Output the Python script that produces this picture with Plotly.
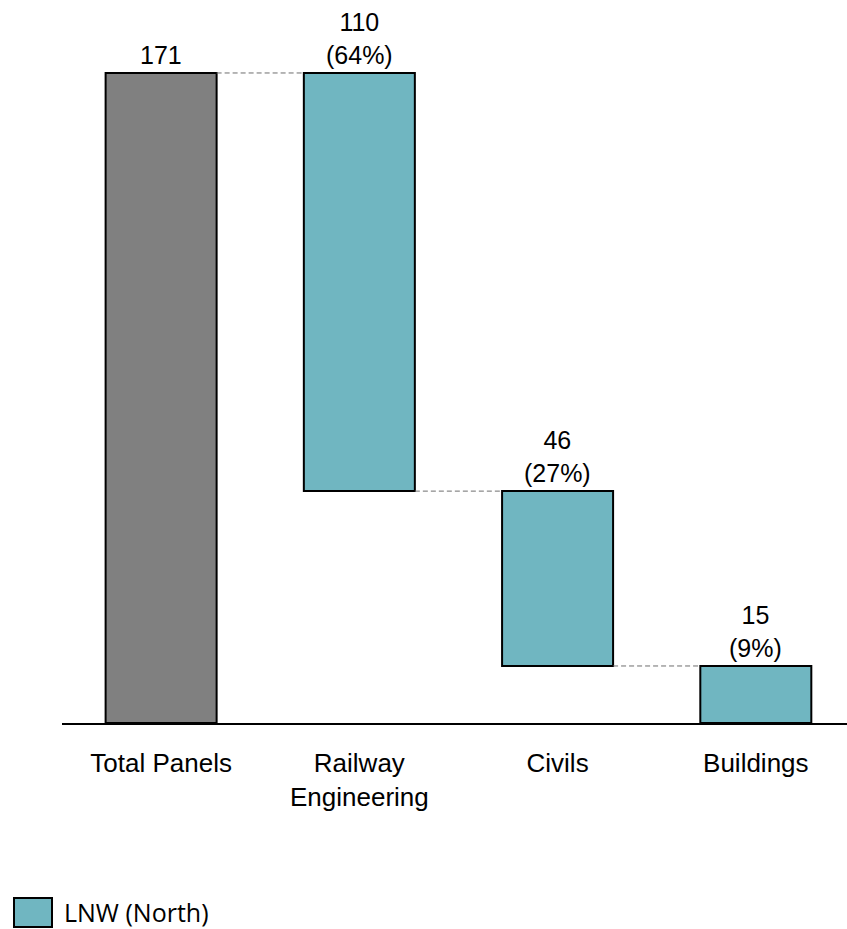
import plotly.graph_objects as go

# Panel counts: overall total, then breakdown by discipline
total_label = "Total Panels"
total_value = 171
categories = ["Railway<br>Engineering", "Civils", "Buildings"]
values = [110, 46, 15]
series_name = "LNW (North)"

TEAL = "#70B6C1"
GREY = "#808080"
FONT = "Liberation Sans, Arial, sans-serif"
BAR_W = 0.56

# Waterfall bases: each discipline bar hangs from the running remainder
bases = []
running = total_value
for v in values:
    running -= v
    bases.append(running)

x_cat = list(range(len(categories) + 1))
x_teal = x_cat[1:]

fig = go.Figure()

fig.add_trace(go.Bar(
    x=[x_cat[0]], y=[total_value], base=[0], width=BAR_W,
    marker=dict(color=GREY, line=dict(color="#000000", width=2)),
    showlegend=False, hoverinfo="skip",
))
fig.add_trace(go.Bar(
    x=x_teal, y=values, base=bases, width=BAR_W, name=series_name,
    marker=dict(color=TEAL, line=dict(color="#000000", width=2)),
    showlegend=False,
))

# Value labels above each bar
annotations = [dict(
    x=x_cat[0], y=total_value, xref="x", yref="y", text=str(total_value),
    showarrow=False, yanchor="bottom", yshift=2,
    font=dict(family=FONT, size=25, color="#000000"),
)]
for xi, v, b in zip(x_teal, values, bases):
    pct = round(100 * v / total_value)
    annotations.append(dict(
        x=xi, y=b + v, xref="x", yref="y", text=f"{v}<br>({pct}%)",
        showarrow=False, yanchor="bottom", yshift=2,
        font=dict(family=FONT, size=25, color="#000000"),
    ))

# Dashed connectors between consecutive bar levels
tops = [total_value] + [b + v for b, v in zip(bases, values)]
shapes = []
for i in range(len(x_cat) - 1):
    level = tops[i + 1]
    shapes.append(dict(
        type="line", xref="x", yref="y",
        x0=x_cat[i] + BAR_W / 2, x1=x_cat[i + 1] - BAR_W / 2,
        y0=level, y1=level,
        line=dict(color="#6E6E6E", width=1, dash="5px,3px"),
    ))

# Legend key drawn below the chart
shapes.append(dict(
    type="rect", xref="paper", yref="paper",
    x0=(14 - 62) / 785, x1=(52 - 62) / 785,
    y0=(723 - 927) / 723, y1=(723 - 898) / 723,
    fillcolor=TEAL, line=dict(color="#000000", width=2),
))
annotations.append(dict(
    x=(62 - 62) / 785, y=(723 - 912) / 723, xref="paper", yref="paper",
    text=series_name, showarrow=False, xanchor="left", yanchor="middle",
    font=dict(family="Open Sans, sans-serif", size=25, color="#000000"),
))

fig.update_layout(
    width=847, height=929,
    margin=dict(l=62, r=0, t=0, b=206),
    paper_bgcolor="#FFFFFF", plot_bgcolor="#FFFFFF",
    barmode="overlay",
    showlegend=False,
    annotations=annotations,
    shapes=shapes,
    xaxis=dict(
        range=[-0.5, 3.46], tickvals=x_cat,
        ticktext=[total_label] + categories,
        showgrid=False, zeroline=False, showline=True,
        linecolor="#000000", linewidth=2, ticks="",
        tickfont=dict(family=FONT, size=26, color="#000000"),
        ticklabelstandoff=16,
    ),
    yaxis=dict(
        range=[0, 190.2], visible=False, showgrid=False, zeroline=False,
    ),
)

fig.write_html("out.html")
